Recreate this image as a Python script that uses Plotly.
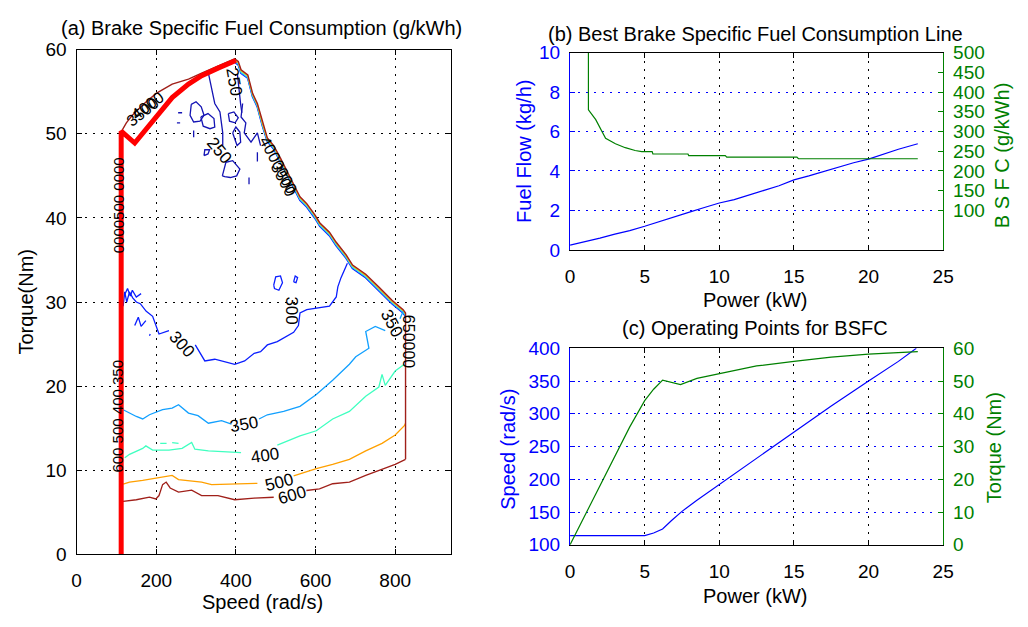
import plotly.graph_objects as go

W, H = 1028, 627
FONT = "Liberation Sans"
BLUE = "#0000ff"
GREEN = "#008000"

# ---------------- Panel (a) data : BSFC map ----------------
# best-BSFC (thick red) line
red_speed = [112, 112, 146, 174, 207, 240, 281, 314, 355, 400]
red_torque = [0, 50.3, 48.9, 50.5, 52.6, 54.3, 55.9, 56.9, 57.8, 58.7]

# outer boundary of the map (high-level contours bunched together)
edge_speed = [113, 113, 125, 140, 170, 200, 240, 281, 314, 355, 397, 406, 413, 430, 442, 454, 467,
              479, 495, 512, 545, 561, 578, 598, 611, 635, 652, 677, 693, 726, 759, 792, 820, 826, 826]
edge_torque = [6.3, 50.3, 51.3, 52.2, 53.6, 54.8, 55.9, 56.5, 57.2, 58.0, 58.9, 58.6, 57.6, 57.0, 54.8, 53.6, 51.3,
               49.5, 48.6, 47.1, 44.0, 42.5, 41.7, 40.4, 39.4, 38.3, 37.1, 35.6, 34.4, 33.3, 31.8, 30.2, 29.1, 28.7, 11.3]

c600_speed = [113, 117, 150, 183, 199, 207, 216, 225, 235, 256, 289, 314, 355, 397, 446, 495, None,
              577, 610, 643, 685, 726, 767, 800, 826]
c600_torque = [6.3, 6.3, 6.5, 6.8, 6.6, 7.0, 8.3, 8.6, 7.9, 7.4, 7.65, 7.0, 7.0, 6.5, 6.7, 6.8, None,
               7.6, 7.8, 8.4, 8.6, 9.4, 10.1, 10.7, 11.3]

c500_speed = [117, 133, 166, 199, 240, 256, 281, 314, 339, 397, 454, None,
              545, 602, 643, 685, 726, 767, 800, 823, 826]
c500_torque = [8.35, 8.6, 8.8, 9.1, 9.4, 8.9, 8.8, 8.6, 8.3, 8.35, 8.45, None,
               9.35, 10.2, 10.7, 11.3, 12.3, 13.2, 14.2, 15.3, 15.6]

c400_speed = [121, 133, 166, 174, 191, 232, 265, 289, 297, 331, 413, None,
              504, 561, 602, 643, 685, 726, 759, 767, 775, 800, 823, None,
              210, 226, None, 240, 256]
c400_torque = [11.5, 11.9, 12.6, 12.9, 12.4, 12.4, 12.6, 13.3, 12.5, 12.3, 12.1, None,
               13.0, 14.1, 14.7, 16.1, 17.0, 18.8, 19.9, 21.4, 20.1, 21.8, 22.6, None,
               13.2, 13.2, None, 13.3, 13.2]

c350_speed = [117, 133, 150, 166, 183, 216, 240, 256, 281, 305, 331, 364, 389, None,
              458, 479, 520, 561, 602, 643, 685, 701, 734, 726, 750, 775, None, 812, 820]
c350_torque = [17.2, 16.8, 16.4, 16.1, 16.6, 17.2, 17.4, 17.8, 16.8, 16.5, 15.6, 15.9, 15.5, None,
               16.1, 16.6, 17.0, 17.6, 19.0, 20.7, 22.6, 23.5, 24.5, 26.5, 27.1, 26.6, None, 28.0, 28.9]

c300_speed = [117, 121, 126, 133, 141, 150, 160, 175, 191, 200, 207, 232, None,
              298, 322, 347, 397, 422, 446, 462, 479, 504, 545, 557, 561, 578, 611, 635, 652, 656, 664, 680, None,
              495, 500, 512, 517, 508, 497, 495, None, 545, 549, 555, 551, 545, None,
              121, 128, 135, 140, 150, 162, None, 146, 155, 162, 174, None, 183, 185]
c300_torque = [29.5, 31.2, 30.0, 31.2, 30.5, 30.0, 29.8, 28.9, 28.3, 27.0, 26.2, 26.6, None,
               24.9, 23.0, 23.2, 22.6, 23.0, 23.9, 24.1, 24.9, 25.3, 26.4, 27.2, 28.7, 29.1, 29.3, 29.5, 30.6, 31.8, 32.9, 34.6, None,
               32.0, 33.0, 33.1, 32.3, 31.4, 31.6, 32.0, None, 32.4, 33.1, 32.9, 32.3, 32.4, None,
               30.9, 31.6, 30.7, 31.4, 30.6, 31.0, None, 27.2, 28.2, 27.1, 27.8, None, 26.0, 26.2]

c250_speed = [331, 339, 347, 360, 364, 367, 367, None,
              288, 300, 313, 320, 310, 294, 285, 288, None,
              312, 330, 345, 347, 335, 318, 312, None,
              381, 395, 406, 398, 384, 381, None,
              366, 375, 392, 410, 402, 386, 372, 366, None,
              417, 413, 425, 421, 438, 454, 462, None,
              392, 400, 410, 412, 403, 392, None,
              255, 265, None, 252, 260, None, 294, 294, None, 320, 330, 334, 322, 320, None,
              433, 433, None, 454, 454, None, 404, 408, 412, 415]
c250_torque = [57.2, 55.5, 53.6, 52.6, 51.3, 50.1, 48.6, None,
               53.5, 53.8, 53.2, 52.2, 51.5, 51.4, 52.2, 53.5, None,
               52.0, 52.4, 51.8, 50.8, 50.6, 50.9, 52.0, None,
               52.4, 52.6, 51.9, 51.3, 51.5, 52.4, None,
               45.0, 46.6, 46.8, 45.8, 45.0, 44.8, 44.9, 45.0, None,
               53.6, 52.0, 51.3, 50.1, 49.0, 50.1, 48.6, None,
               50.1, 50.8, 50.2, 49.0, 48.6, 50.1, None,
               52.5, 52.5, None, 51.3, 51.3, None, 49.6, 50.4, None, 47.4, 47.6, 48.1, 48.1, 47.4, None,
               44.0, 44.8, None, 46.7, 47.8, None, 57.0, 55.0, 53.5, 52.5]

# ---------------- Panel (b) data ----------------
ff_power = [0, 1, 2, 3, 4, 5, 6, 7, 8, 9, 10, 11, 12, 13, 14, 15, 16, 17, 18, 19, 20, 21, 22, 23.3]
fuel_flow = [0.25, 0.42, 0.6, 0.8, 0.98, 1.2, 1.45, 1.68, 1.92, 2.15, 2.38, 2.55, 2.8, 3.02, 3.25,
             3.55, 3.75, 3.98, 4.2, 4.42, 4.6, 4.85, 5.1, 5.38]
bsfc_power = [1.23, 1.23, 1.72, 2.38, 3.04, 3.70, 4.36, 4.8, 5.5, 5.55, 7.9, 7.95, 10.4, 10.5, 15.2, 15.3, 23.3]
bsfc_line = [500, 355, 330, 283, 269, 259, 252, 249, 249, 243, 243, 239, 239, 235, 235, 231, 231]

# ---------------- Panel (c) data ----------------
sp_power = [0, 5.0, 5.6, 6.2, 6.8, 7.5, 8.5, 10, 12.5, 15, 17.5, 20, 22, 23.2]
op_speed = [114, 114, 118, 124, 137, 151, 168, 192, 232, 272, 312, 350, 380, 400]
tq_power = [0, 1, 2, 3, 4, 5, 5.6, 6.2, 6.8, 7.4, 8.5, 10, 12.5, 15, 17.5, 20, 23.3]
op_torque = [0, 9, 18, 27, 36, 44, 47.5, 50.3, 49.6, 48.9, 50.8, 52.3, 54.6, 56, 57.3, 58.2, 59]

# tick values
a_xticks = [0, 200, 400, 600, 800]
a_yticks = [0, 10, 20, 30, 40, 50, 60]
p_ticks = [0, 5, 10, 15, 20, 25]
ff_ticks = [0, 2, 4, 6, 8, 10]
bsfc_ticks = [100, 150, 200, 250, 300, 350, 400, 450, 500]
spd_ticks = [100, 150, 200, 250, 300, 350, 400]
tq_ticks = [0, 10, 20, 30, 40, 50, 60]

# ---------------- figure ----------------
fig = go.Figure()

C250, C300, C350, C400, C500, C600 = "#1414b4", "#0a1eff", "#12a0ff", "#40ffc0", "#ffa000", "#a0201a"
LW = 1.3


def line(x, y, color, width=LW, xa="x", ya="y"):
    fig.add_trace(go.Scatter(x=x, y=y, mode="lines", line=dict(color=color, width=width),
                             xaxis=xa, yaxis=ya, showlegend=False, hoverinfo="skip",
                             connectgaps=False))


# bunched contours hugging the diagonal boundary (drawn slightly inside it)
diag_s = edge_speed[10:34]
diag_t = edge_torque[10:34]
for col, off in [(C300, 0.42), (C350, 0.31), (C400, 0.21), (C500, 0.11)]:
    line([s - off * 2 for s in diag_s], [t - off for t in diag_t], col, 1.1)

line(c250_speed, c250_torque, C250)
line(c300_speed, c300_torque, C300)
line(c350_speed, c350_torque, C350)
line(c400_speed, c400_torque, C400)
line(c500_speed, c500_torque, C500)
line(c600_speed, c600_torque, C600)
line(edge_speed, edge_torque, C600, 1.4)
line(red_speed, red_torque, "#ff0000", 5)

# panel (b)
line(ff_power, fuel_flow, BLUE, 1.2, "x2", "y2")
line(bsfc_power, bsfc_line, GREEN, 1.2, "x2", "y3")
# panel (c)
line(sp_power, op_speed, BLUE, 1.2, "x3", "y4")
line(tq_power, op_torque, GREEN, 1.2, "x3", "y5")

DOT = "2px,6px"
TS = 19
tickfont = dict(family=FONT, size=TS, color="black")


def xax(dom, anchor, rng, ticks):
    return dict(domain=dom, anchor=anchor, range=rng, tickvals=ticks, ticks="inside", ticklen=5,
                showline=True, linecolor="black", linewidth=1.2, mirror="ticks", showgrid=True,
                gridcolor="black", griddash=DOT, gridwidth=1.3, zeroline=False,
                tickfont=tickfont, ticklabelstandoff=9, tickcolor="black")


def yax(dom, anchor, rng, ticks, color, grid, side="left", overlay=None, gridcolor="black", mirror=False):
    d = dict(domain=dom, anchor=anchor, range=rng, tickvals=ticks, ticks="inside", ticklen=5,
             showline=True, linecolor=color, linewidth=1.2, mirror=mirror, showgrid=grid,
             gridcolor=gridcolor, griddash=DOT, gridwidth=1.3, zeroline=False, side=side,
             tickfont=dict(family=FONT, size=TS, color=color), ticklabelstandoff=5, tickcolor=color)
    if overlay:
        d["overlaying"] = overlay
    return d


ax_a = [72.7 / W, 453 / W]
ay_a = [1 - 563.3 / H, 1 - 41 / H]
ax_b = [574 / W, 953 / W]
ay_b = [1 - 248.3 / H, 1 - 44 / H]
ay_c = [1 - 553.3 / H, 1 - 350 / H]

fig.update_layout(
    width=W, height=H, margin=dict(l=0, r=0, t=0, b=0),
    paper_bgcolor="white", plot_bgcolor="white", showlegend=False,
    font=dict(family=FONT, size=18, color="black"),
    xaxis=xax(ax_a, "y", [0, 940], a_xticks),
    yaxis=yax(ay_a, "x", [0, 60], a_yticks, "black", True, mirror="ticks"),
    xaxis2=xax(ax_b, "y2", [0, 25], p_ticks),
    yaxis2=yax(ay_b, "x2", [0, 10], ff_ticks, BLUE, True, gridcolor=BLUE),
    yaxis3=yax(ay_b, "x2", [0, 500], bsfc_ticks, GREEN, False, side="right", overlay="y2"),
    xaxis3=xax(ax_b, "y4", [0, 25], p_ticks),
    yaxis4=yax(ay_c, "x3", [100, 400], spd_ticks, BLUE, True, gridcolor=BLUE),
    yaxis5=yax(ay_c, "x3", [0, 60], tq_ticks, GREEN, False, side="right", overlay="y4"),
)

ann = []


def ptext(txt, px, py, color="black", angle=0, size=20):
    ann.append(dict(text=txt, x=px / W, y=1 - py / H, xref="paper", yref="paper", showarrow=False,
                    textangle=angle, xanchor="center", yanchor="middle",
                    font=dict(family=FONT, size=size, color=color)))


ptext("(a) Brake Specific Fuel Consumption (g/kWh)", 261, 19)
ptext("Speed (rad/s)", 262, 613)
ptext("Torque(Nm)", 21, 302, angle=-90)
ptext("(b) Best Brake Specific Fuel Consumption Line", 762, 25)
ptext("Power (kW)", 762, 300)
ptext("Fuel Flow (kg/h)", 527, 146, BLUE, -90)
ptext("B S F C (g/kWh)", 1013, 150, GREEN, -90)
ptext("(c) Operating Points for BSFC", 762, 329)
ptext("Power (kW)", 762, 606)
ptext("Speed (rad/s)", 511, 455, BLUE, -90)
ptext("Torque (Nm)", 1004, 453, GREEN, -90)


def clab(txt, s, t, angle=0, size=17):
    ann.append(dict(text=txt, x=s, y=t, xref="x", yref="y", showarrow=False, textangle=angle,
                    xanchor="center", yanchor="middle", font=dict(family=FONT, size=size, color="black")))


clab("250", 395, 56.2, 80)
clab("250", 358, 48.0, 50)
clab("300", 265, 25.0, 48)
clab("300", 541, 29.0, 90)
clab("350", 420, 15.4, -10)
clab("400", 474, 11.7, -8)
clab("500", 508, 8.6, -14)
clab("600", 540, 7.0, -16)
clab("350", 792, 27.5, 62)
clab("650000", 834, 25.3, 90, 16)
clab("600 500 400 350", 104, 16.5, -90, 15)
clab("0000500 0000", 104, 41.5, -90, 15)
clab("3500", 168, 52.6, -38, 16)
clab("4000", 180, 53.3, -36, 16)
clab("4000000", 505, 46.3, 62, 16)
clab("3500", 520, 44.6, 62, 16)

fig.update_layout(annotations=ann)
fig.write_html("out.html")
